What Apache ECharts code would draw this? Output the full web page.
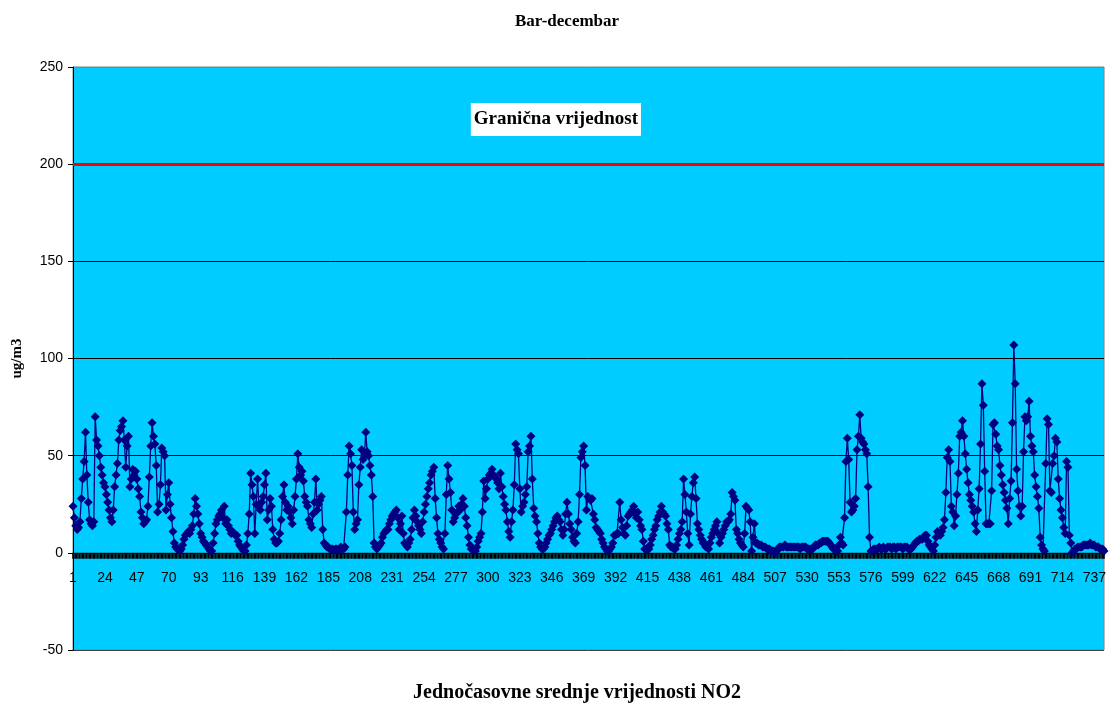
<!DOCTYPE html>
<html>
<head>
<meta charset="utf-8">
<title>Bar-decembar</title>
<script src="https://cdn.jsdelivr.net/npm/echarts@6/dist/echarts.min.js"></script>
<style>
  html, body { margin: 0; padding: 0; background: #ffffff; }
  #chart { width: 1109px; height: 704px; }
</style>
</head>
<body>
<div id="chart"></div>
<script>
// Hourly NO2 means (ug/m3), December, 24 values per day, grouped by week.
const week1 = [
  24,18,14,12,13,16,28,38,47,62,40,26,17,15,14,16,70,58,55,50,44,40,36,34,
  30,26,22,18,16,22,34,40,46,58,63,65,68,58,44,55,60,34,38,43,40,42,38,33,
  29,21,18,15,16,17,24,39,55,67,60,56,45,21,25,35,54,52,50,22,30,36,25,18,
  11,5,3,2,2,1,2,4,7,9,10,11,10,12,14,20,28,24,20,15,10,8,6,5,
  4,3,2,1,1,5,10,15,17,19,20,22,18,24,15,17,14,12,10,11,10,9,9,6,
  4,3,2,1,1,4,10,20,41,35,29,10,25,38,24,22,26,29,35,41,17,22,28,24,
  12,7,5,5,6,10,17,29,35,26,22,24,21,18,15,22,29,38,51,44,40,42,37,29
];
const week2 = [
  26,24,17,15,13,20,26,38,22,25,27,29,12,5,4,3,3,2,2,2,1,2,2,1,
  2,3,2,2,3,21,40,55,51,45,21,12,15,17,35,44,53,48,50,62,52,50,45,40,
  29,5,3,2,3,4,5,8,10,11,12,12,15,17,19,20,21,22,18,12,15,19,10,5,
  4,3,5,7,12,18,22,19,16,14,12,10,16,21,25,29,33,36,40,42,44,28,18,10,
  7,5,3,2,10,30,45,38,31,22,16,18,20,21,24,22,25,28,24,18,14,8,4,2,
  2,1,1,3,6,8,10,21,37,28,33,38,40,41,43,40,39,38,36,33,41,34,29,25,
  22,16,11,8,16,22,35,56,53,51,33,21,24,26,30,34,52,55,60,38,23,19,16,10
];
const week3 = [
  5,3,2,2,3,5,7,9,10,12,14,16,18,19,17,16,12,9,12,20,26,20,15,12,
  8,6,5,10,16,30,49,52,55,45,22,29,28,27,28,20,17,13,12,11,10,7,5,3,
  2,1,1,2,3,5,9,9,10,10,26,17,13,10,9,14,19,20,21,22,24,20,18,21,
  17,14,12,6,2,2,2,2,4,7,9,12,14,17,19,21,24,21,20,19,15,12,4,3,
  3,2,2,4,7,10,12,16,38,30,21,10,4,20,29,36,39,28,15,12,9,7,5,5,
  3,3,2,5,8,10,12,14,16,10,5,8,10,12,14,16,16,17,20,31,29,27,12,10,
  7,5,4,3,10,24,23,22,16,1,8,15,5,5,4,4,4,3,3,3,2,2,2,1
];
const week4 = [
  1,1,0,1,2,3,3,3,3,4,3,3,3,3,3,3,3,3,3,3,2,3,3,3,
  3,2,2,2,2,2,3,4,4,4,5,5,6,6,6,6,6,5,4,3,2,2,1,1,
  4,8,5,4,18,47,59,48,26,21,22,24,28,53,60,71,59,57,56,53,51,34,8,1,
  1,2,2,2,2,3,2,2,3,2,2,3,3,3,2,3,3,2,3,3,3,3,2,3,
  3,3,2,2,2,3,4,5,6,6,7,7,7,8,9,9,6,4,3,2,1,4,8,11,
  10,9,11,13,17,31,49,53,47,24,21,14,19,30,41,60,62,68,60,51,43,36,30,27,
  24,21,15,11,22,33,56,87,76,42,15,15,15,15,32,66,67,61,55,53,45,40,35,31
];
const week5 = [
  27,23,15,28,37,67,107,87,43,32,24,19,24,52,70,68,70,78,60,55,52,40,34,29,
  23,8,4,2,1,46,69,66,32,31,46,50,59,57,38,28,22,18,13,10,47,44,9,5,
  0,1,2,2,3,3,3,3,4,4,4,4,4,5,4,4,4,3,3,3,2,2,2,1
];

const no2 = [].concat(week1, week2, week3, week4, week5);
const hours = no2.map((_, i) => String(i + 1));

const LIMIT = 200;
const LIMIT_TEXT = 'Granična vrijednost';
const limitLabelAt = { hour: '349', value: 223 };

const Y_MIN = -50, Y_MAX = 250, Y_STEP = 50;
const LABEL_STEP = 23;

const serif = '"Liberation Serif", "Times New Roman", serif';
const sans = '"Liberation Sans", Arial, sans-serif';

// plot box
const GRID = { left: 73, right: 2, top: 67, bottom: 54 };
const CHART_H = 704;
const plotH = CHART_H - GRID.top - GRID.bottom;
// lift the category axis (line, ticks and labels) up to the zero level
const zeroLift = plotH * (0 - Y_MIN) / (Y_MAX - Y_MIN);

const chart = echarts.init(document.getElementById('chart'), null, { renderer: 'canvas' });

chart.setOption({
  animation: false,
  backgroundColor: '#ffffff',
  title: [
    {
      text: 'Bar-decembar',
      left: 562, top: 8, textAlign: 'center',
      textStyle: { fontFamily: serif, fontWeight: 'bold', fontSize: 17, color: '#000' }
    },
    {
      text: 'Jednočasovne srednje vrijednosti NO2',
      left: 572, top: 678, textAlign: 'center',
      textStyle: { fontFamily: serif, fontWeight: 'bold', fontSize: 20, color: '#000' }
    }
  ],
  grid: {
    left: GRID.left, right: GRID.right, top: GRID.top, bottom: GRID.bottom,
    show: true,
    backgroundColor: '#00CCFF',
    borderColor: '#808080',
    borderWidth: 1
  },
  xAxis: {
    type: 'category',
    data: hours,
    boundaryGap: false,
    offset: -zeroLift,
    axisLine: { onZero: false, lineStyle: { color: '#000', width: 1 } },
    axisTick: { show: true, interval: 0, length: 6, lineStyle: { color: '#000', width: 1.5 } },
    axisLabel: {
      interval: LABEL_STEP - 1, margin: 18,
      fontFamily: sans, fontSize: 14, color: '#000'
    },
    splitLine: { show: false }
  },
  yAxis: {
    type: 'value',
    min: Y_MIN, max: Y_MAX, interval: Y_STEP,
    name: 'ug/m3',
    nameLocation: 'middle',
    nameRotate: 90,
    nameGap: 48,
    nameTextStyle: { fontFamily: serif, fontWeight: 'bold', fontSize: 15, color: '#000' },
    axisLine: { show: true, lineStyle: { color: '#000', width: 1 } },
    axisTick: { show: true, length: 5, lineStyle: { color: '#000' } },
    axisLabel: { margin: 10, fontFamily: sans, fontSize: 14, color: '#000' },
    splitLine: {
      show: true,
      lineStyle: { color: ['#404040', '#000', '#000', '#000', '#000', '#000', '#808080'], width: 1 }
    }
  },
  series: [
    {
      name: 'NO2',
      type: 'line',
      data: no2,
      showAllSymbol: true,
      symbol: 'diamond',
      symbolSize: 9,
      itemStyle: { color: '#000080' },
      lineStyle: { color: '#000080', width: 1.3 },
      z: 3,
      markLine: {
        silent: true,
        symbol: 'none',
        lineStyle: { color: '#FF0000', width: 3, type: 'solid' },
        label: { show: false },
        data: [{ yAxis: LIMIT }]
      },
      markPoint: {
        silent: true,
        symbol: 'rect',
        symbolSize: 1,
        itemStyle: { color: 'rgba(0,0,0,0)' },
        label: {
          show: true,
          position: 'inside',
          formatter: LIMIT_TEXT,
          backgroundColor: '#ffffff',
          padding: [7, 3, 7, 3],
          fontFamily: serif, fontWeight: 'bold', fontSize: 19, color: '#000'
        },
        data: [{ coord: [limitLabelAt.hour, limitLabelAt.value] }]
      }
    }
  ]
});
</script>
</body>
</html>
